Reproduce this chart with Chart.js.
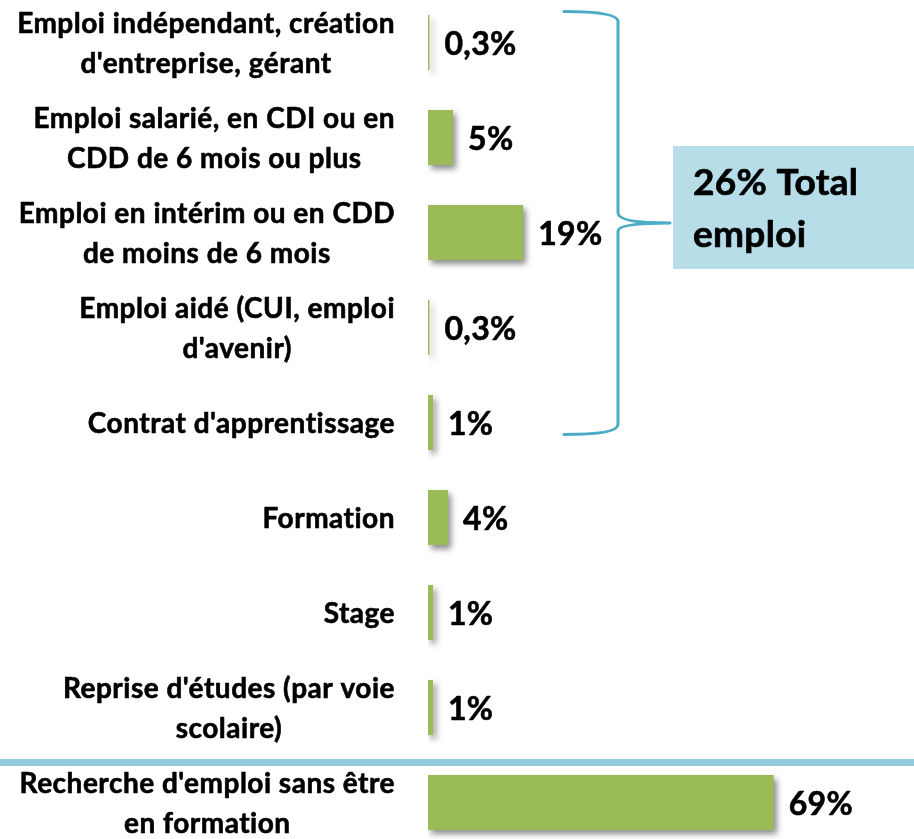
<!DOCTYPE html>
<html>
<head>
<meta charset="utf-8">
<script src="https://cdn.jsdelivr.net/npm/chart.js@4/dist/chart.umd.min.js"></script>
<style>
html, body { margin: 0; padding: 0; background: #fff; }
#wrap { position: relative; width: 914px; height: 839px; overflow: hidden; }
#chart { position: absolute; left: 0; top: -5px; }
</style>
</head>
<body>
<div id="wrap"><canvas id="chart" width="914" height="855"></canvas></div>
<script>
// categories (one array of lines per bar)
const categories = [
  ["Emploi indépendant, création", "d'entreprise, gérant"],
  ["Emploi salarié, en CDI ou en", "CDD de 6 mois ou plus"],
  ["Emploi en intérim ou en CDD", "de moins de 6 mois"],
  ["Emploi aidé (CUI, emploi", "d'avenir)"],
  ["Contrat d'apprentissage"],
  ["Formation"],
  ["Stage"],
  ["Reprise d'études (par voie", "scolaire)"],
  ["Recherche d'emploi sans être", "en formation"]
]

// shares in %
const values = [0.3, 5, 19, 0.3, 1, 4, 1, 1, 69]

// bracket over the employment rows
const groupFirst = 0
const groupLast = 4
const groupLabel = ["26% Total", "emploi"]

const GREEN = "#9BBB59"
const BRACE = "#4BACC6"
const BOX = "#B7DEE8"
const RULE = "#92CDDC"
const FONT = "Lato"

function fmt(v) {
  return String(v).replace(".", ",") + "%"
}

// bold text with a hairline stroke to thicken it a little
function heavyText(ctx, s, x, y) {
  ctx.fillText(s, x, y)
  ctx.strokeText(s, x, y)
}

// shadow under the bars
const barShadow = {
  id: "barShadow",
  beforeDatasetsDraw(chart) {
    const ctx = chart.ctx
    ctx.save()
    ctx.shadowColor = "rgba(0,0,0,0.45)"
    ctx.shadowBlur = 6
    ctx.shadowOffsetX = 3
    ctx.shadowOffsetY = 4
  },
  afterDatasetsDraw(chart) {
    chart.ctx.restore()
  }
}

// category labels, value labels, bracket, total box, separator
const decorations = {
  id: "decorations",
  afterDraw(chart) {
    const ctx = chart.ctx
    const y = chart.scales.y
    const meta = chart.getDatasetMeta(0)

    ctx.save()
    ctx.fillStyle = "#000"
    ctx.strokeStyle = "#000"
    ctx.lineWidth = 0.6
    ctx.lineJoin = "round"
    ctx.textBaseline = "middle"
    ctx.letterSpacing = "0.5px"

    // left labels: block right-aligned, lines centred inside the block
    ctx.font = "bold 28px " + FONT
    const labelRight = 395
    const lh = 40
    categories.forEach((lines, i) => {
      const cy = y.getPixelForValue(i)
      let w = 0
      lines.forEach(l => { w = Math.max(w, ctx.measureText(l).width) })
      const cx = labelRight - w / 2
      ctx.textAlign = "center"
      lines.forEach((l, k) => {
        heavyText(ctx, l, cx, cy + (k - (lines.length - 1) / 2) * lh + 1)
      })
    })

    // values after bars
    ctx.font = "bold 32px " + FONT
    ctx.textAlign = "left"
    ctx.letterSpacing = "0.3px"
    meta.data.forEach((bar, i) => {
      heavyText(ctx, fmt(values[i]), bar.x + 15, bar.y + 2)
    })

    // separator above the last row
    const sepY = (y.getPixelForValue(7) + y.getPixelForValue(8)) / 2 + 7
    ctx.fillStyle = RULE
    ctx.fillRect(0, sepY - 3, chart.width, 7)

    // bracket
    const top = y.getPixelForValue(groupFirst) - 31
    const bot = y.getPixelForValue(groupLast) + 12
    const mid = (top + bot) / 2
    const x0 = 564
    const xs = 618
    const tip = 670
    ctx.strokeStyle = BRACE
    ctx.lineWidth = 3
    ctx.lineCap = "round"
    ctx.beginPath()
    ctx.moveTo(x0, top)
    ctx.quadraticCurveTo(xs, top, xs, top + 10)
    ctx.lineTo(xs, mid - 10)
    ctx.quadraticCurveTo(xs, mid, tip, mid)
    ctx.quadraticCurveTo(xs, mid, xs, mid + 8)
    ctx.lineTo(xs, bot - 10)
    ctx.quadraticCurveTo(xs, bot, x0, bot)
    ctx.stroke()

    // total box
    const bx = 673
    const bh = 123
    const by = mid - 77
    ctx.fillStyle = BOX
    ctx.fillRect(bx, by, chart.width - bx, bh)
    ctx.fillStyle = "#000"
    ctx.strokeStyle = "#000"
    ctx.lineWidth = 0.7
    ctx.font = "bold 37px " + FONT
    ctx.textAlign = "left"
    ctx.textBaseline = "alphabetic"
    heavyText(ctx, groupLabel[0], bx + 20, by + 49)
    heavyText(ctx, groupLabel[1], bx + 20, by + 101)

    ctx.restore()
  }
}

function draw() {
  new Chart(document.getElementById("chart"), {
    type: "bar",
    data: {
      labels: categories,
      datasets: [{
        data: values,
        backgroundColor: GREEN,
        borderWidth: 0,
        barPercentage: 0.58,
        categoryPercentage: 1
      }]
    },
    options: {
      indexAxis: "y",
      responsive: false,
      devicePixelRatio: 1,
      animation: false,
      layout: { padding: { left: 428, right: 0, top: 0, bottom: 0 } },
      scales: {
        x: { display: false, min: 0, max: 97 },
        y: { display: false }
      },
      plugins: {
        legend: { display: false },
        tooltip: { enabled: false }
      }
    },
    plugins: [barShadow, decorations]
  })
}

document.fonts.load("bold 28px " + FONT).then(draw, draw)
</script>
</body>
</html>
